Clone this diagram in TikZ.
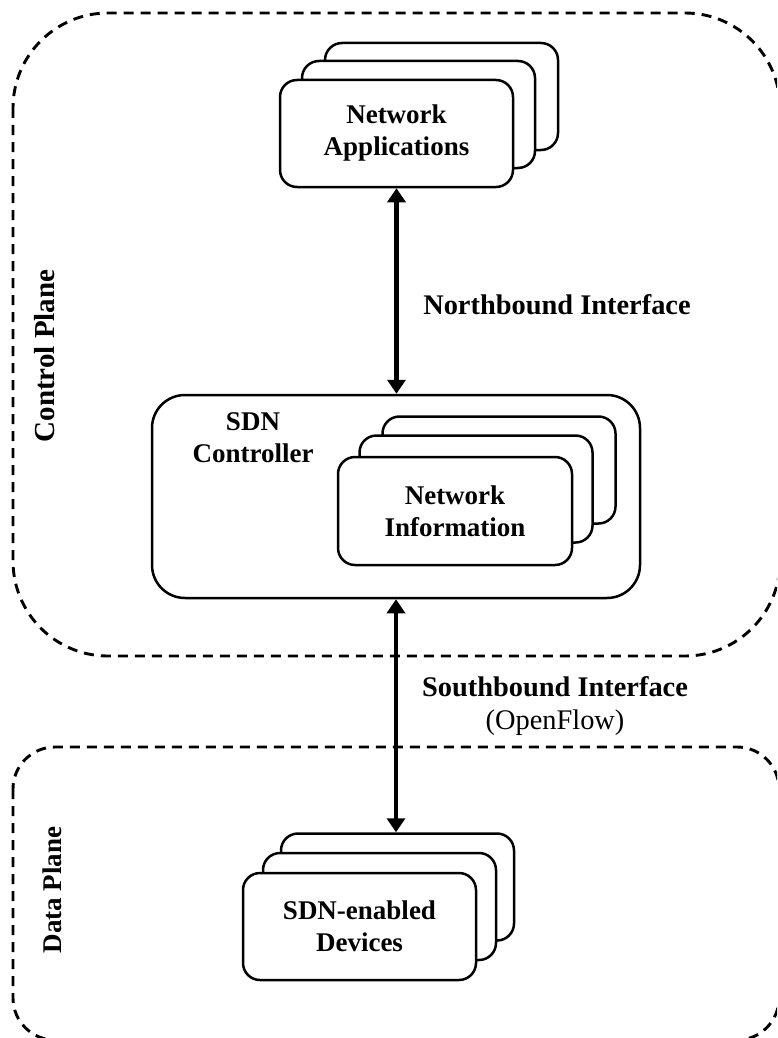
\documentclass[tikz,border=0pt]{standalone}
\usepackage{fontspec}
\setmainfont{Liberation Serif}
\usetikzlibrary{arrows.meta,calc}

\tikzset{
  plane/.style={draw=black, line width=2.9pt, dash pattern=on 10pt off 7pt},
  card/.style={draw=black, fill=white, line width=2.5pt, rounded corners=17pt,
    minimum width=233pt, minimum height=107pt, inner sep=0pt, align=center,
    font=\fontsize{27}{32}\selectfont\bfseries},
  ctrlbox/.style={draw=black, fill=white, line width=2.5pt, rounded corners=33pt,
    minimum width=488pt, minimum height=203pt, inner sep=0pt},
  lbl/.style={align=center, font=\fontsize{28.4}{33}\selectfont\bfseries, inner sep=0pt},
  side/.style={font=\fontsize{29}{33}\selectfont\bfseries, inner sep=0pt, rotate=90},
  biarrow/.style={line width=4.8pt,
    {Triangle[width=18pt,length=14pt]}-{Triangle[width=18pt,length=14pt]}}
}

\begin{document}
\begin{tikzpicture}[x=1pt, y=-1pt]
  \useasboundingbox (0,0) rectangle (777,1038);
  \clip (0,0) rectangle (777,1038);

  % control and data plane regions
  \draw[plane, rounded corners=95pt] (13,13) rectangle (780,656);
  \draw[plane, rounded corners=42pt] (13,747) rectangle (779,1040);

  \node[side] (cplane) at (45,356) {Control Plane};
  \node[side, font=\fontsize{27}{32}\selectfont\bfseries] (dplane) at (52,890) {Data Plane};

  % network applications (stack of three)
  \node[card] (app3) at (441.5,96.5) {};
  \node[card] (app2) at (418.5,114.5) {};
  \node[card] (app1) at (396.5,133.5) {Network\\Applications};

  % SDN controller with network information stack
  \node[ctrlbox] (ctrl) at (396,496.5) {};
  \node[card, draw=none, fill=none] (ctrltxt) at (253,438) {SDN\\Controller};
  \node[card] (info3) at (499,470) {};
  \node[card] (info2) at (476,489) {};
  \node[card, minimum width=234pt, minimum height=108pt] (info1) at (455,511) {Network\\Information};

  % SDN-enabled devices (stack of three)
  \node[card] (dev3) at (397.5,887) {};
  \node[card] (dev2) at (379.5,906.5) {};
  \node[card] (dev1) at (359.5,926.5) {SDN-enabled\\Devices};

  % interfaces
  \draw[biarrow] (app1.south) -- (app1.south |- ctrl.north);
  \draw[biarrow] (ctrl.south) -- (ctrl.south |- dev3.north);

  \node[lbl] (nbi) at (557,305) {Northbound Interface};
  \node[lbl] (sbi) at (555,706) {Southbound Interface\\{\mdseries(OpenFlow)}};
\end{tikzpicture}
\end{document}
